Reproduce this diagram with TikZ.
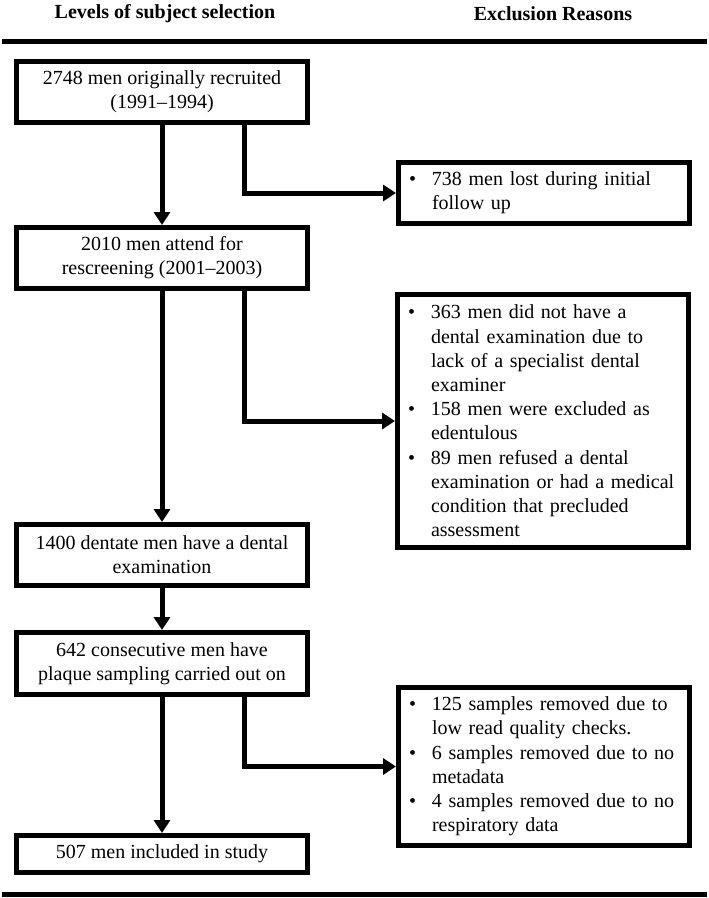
\documentclass[tikz,border=0pt]{standalone}
\usepackage{fontspec}
\setmainfont{Liberation Serif}
\usetikzlibrary{arrows.meta}
\newcommand{\bul}{\makebox[23pt][l]{\textbullet}}
\newcommand{\ind}{\hspace*{23pt}}
\begin{document}
\begin{tikzpicture}[x=1pt,y=-1pt,
  box/.style={draw=black, line width=5pt, minimum width=291pt, inner xsep=4pt, inner ysep=0pt,
    align=center, font=\fontsize{20}{24.2}\selectfont},
  exbox/.style={draw=black, line width=5pt, text width=270pt, inner xsep=10.5pt, inner ysep=0pt,
    align=left, font=\fontsize{20}{24.2}\selectfont},
  arr/.style={line width=5pt, line join=miter, -{Triangle[width=16pt,length=13pt]}},
  hrule/.style={line width=5pt},
  head/.style={font=\bfseries\fontsize{20}{24}\selectfont}]
\useasboundingbox (0,0) rectangle (709,898);

% headers
\node[head] (h1) at (165,14) {Levels of subject selection};
\node[head] (h2) at (553,14) {Exclusion Reasons};
\coordinate (r1a) at (2,41);
\coordinate (r1b) at (707,41);
\coordinate (r2a) at (2,894);
\coordinate (r2b) at (707,894);
\draw[hrule] (r1a) -- (r1b);
\draw[hrule] (r2a) -- (r2b);

% main boxes
\node[box, minimum height=61pt] (b1) at (162,92) {2748 men originally recruited\\(1991–1994)};
\node[box, minimum height=61pt] (b2) at (162,258) {2010 men attend for\\rescreening (2001–2003)};
\node[box, minimum height=61pt] (b3) at (162,555) {1400 dentate men have a dental\\examination};
\node[box, minimum height=62pt] (b4) at (162,663.5) {642 consecutive men have\\plaque sampling carried out on};
\node[box, minimum height=37pt] (b5) at (162,854) {507 men included in study};

% exclusion boxes
\node[exbox, minimum height=61pt] (e1) at (544,193)
  {\bul 738 men lost during initial\\\ind follow up};
\node[exbox, minimum height=253pt] (e2) at (543,421)
  {\bul 363 men did not have a\\\ind dental examination due to\\\ind lack of a specialist dental\\\ind examiner\\
   \bul 158 men were excluded as\\\ind edentulous\\
   \bul 89 men refused a dental\\\ind examination or had a medical\\\ind condition that precluded\\\ind assessment};
\node[exbox, minimum height=158pt] (e3) at (544,766.5)
  {\bul 125 samples removed due to\\\ind low read quality checks.\\
   \bul 6 samples removed due to no\\\ind metadata\\
   \bul 4 samples removed due to no\\\ind respiratory data};

% connectors
\coordinate (bx) at (244,0);
\draw[arr] (b1) -- (b2);
\draw[arr] (b2) -- (b3);
\draw[arr] (b3) -- (b4);
\draw[arr] (b4) -- (b5);
\draw[arr] (b1.south -| bx) |- (e1.west);
\draw[arr] (b2.south -| bx) |- (e2.west);
\draw[arr] (b4.south -| bx) |- (e3.west);
\end{tikzpicture}
\end{document}
